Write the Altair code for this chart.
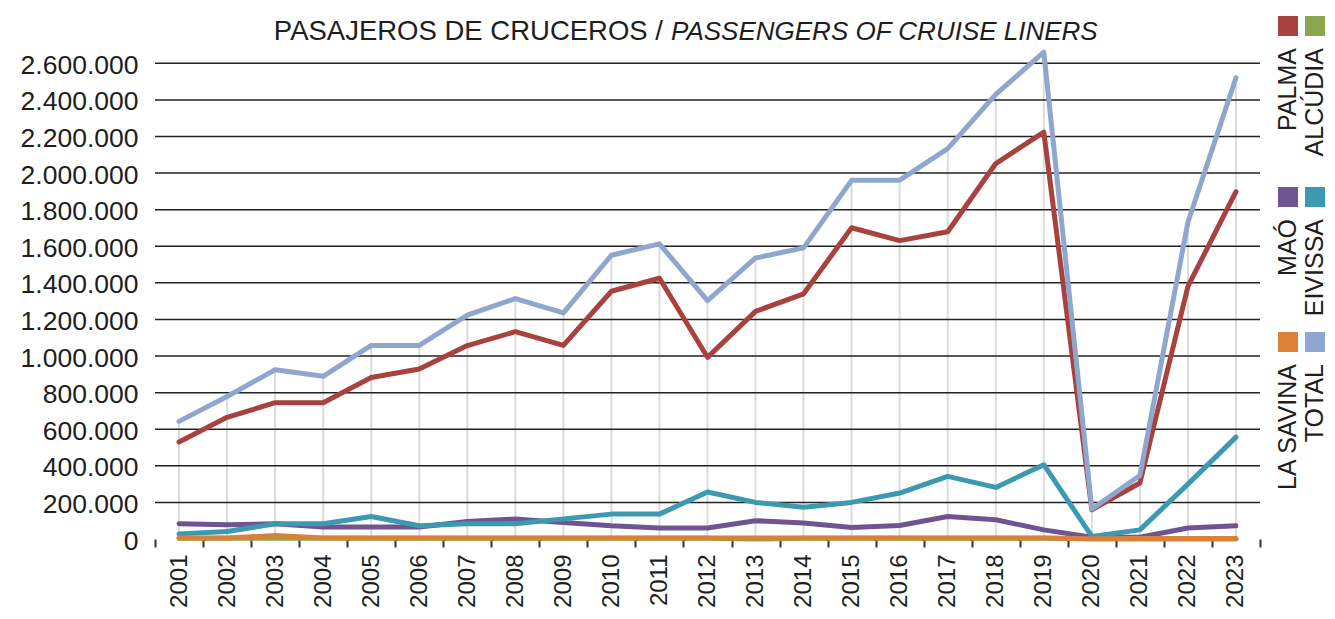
import altair as alt
import pandas as pd

years = ["2001", "2002", "2003", "2004", "2005", "2006", "2007", "2008", "2009", "2010", "2011", "2012",
         "2013", "2014", "2015", "2016", "2017", "2018", "2019", "2020", "2021", "2022", "2023"]

palma = [530000, 665000, 745000, 745000, 883000, 929000, 1057000, 1133000, 1058000, 1354000, 1425000, 993000,
         1244000, 1340000, 1701000, 1631000, 1679000, 2052000, 2224000, 160000, 306000, 1381000, 1898000]
alcudia = [4000, 4000, 4000, 4000, 4000, 4000, 4000, 4000, 4000, 4000, 4000, 4000,
           0, 4000, 4000, 4000, 4000, 4000, 4000, 1000, 0, 0, 0]
mao = [83000, 78000, 83000, 65000, 65000, 66000, 96000, 109000, 90000, 72000, 60000, 60000,
       100000, 87000, 63000, 74000, 123000, 105000, 50000, 10000, 10000, 60000, 72000]
eivissa = [28000, 41000, 83000, 83000, 123000, 72000, 83000, 83000, 110000, 136000, 136000, 257000,
           200000, 174000, 200000, 251000, 342000, 282000, 406000, 14000, 50000, 300000, 557000]
savina = [5000, 5000, 19000, 5000, 5000, 5000, 5000, 5000, 5000, 5000, 5000, 5000,
          5000, 5000, 5000, 5000, 5000, 5000, 5000, 1000, 3000, 3000, 3000]
total = [643000, 779000, 925000, 889000, 1058000, 1058000, 1223000, 1314000, 1236000, 1551000, 1613000, 1303000,
         1536000, 1591000, 1961000, 1961000, 2134000, 2430000, 2661000, 164000, 347000, 1731000, 2521000]

series_names = ["PALMA", "ALCÚDIA", "MAÓ", "EIVISSA", "LA SAVINA", "TOTAL"]
series_colors = ["#A7423E", "#8BA64C", "#6E5592", "#3C99B0", "#DA8039", "#8FA7CF"]
series_values = [palma, alcudia, mao, eivissa, savina, total]

y_ticks = [0, 200000, 400000, 600000, 800000, 1000000, 1200000, 1400000, 1600000,
           1800000, 2000000, 2200000, 2400000, 2600000]

title_es = "PASAJEROS DE CRUCEROS /"
title_en = "PASSENGERS OF CRUISE LINERS"

rows = []
for name, vals in zip(series_names, series_values):
    for yr, v in zip(years, vals):
        rows.append({"year": yr, "series": name, "value": v})
df = pd.DataFrame(rows)
df_total = pd.DataFrame({"year": years, "total": total})
df_grid = pd.DataFrame({"v": y_ticks[1:]})
df_leg = pd.DataFrame({
    "series": series_names,
    "col": [i % 2 for i in range(len(series_names))],
    "row": [i // 2 for i in range(len(series_names))],
})

W, H = 1105, 494
FONT = "Liberation Sans"
TXT = "#1e1e1e"

xscale = alt.Scale(type="band", paddingInner=0, paddingOuter=0, domain=years)
x_axis = alt.Axis(title=None, tickBand="extent", domain=False, grid=False, ticks=True,
                  tickSize=8, tickWidth=2, tickColor="#333333", labelAngle=270,
                  labelFont=FONT, labelFontSize=24, labelColor=TXT, labelPadding=7)
yscale = alt.Scale(domain=[0, 2700000], nice=False, zero=True)
y_axis = alt.Axis(title=None, values=y_ticks, grid=False, domain=False, ticks=False, tickSize=0,
                  labelFont=FONT, labelFontSize=26.5, labelColor=TXT, labelPadding=17, labelOffset=2,
                  labelExpr="replace(replace(format(datum.value, ','), ',', '.'), ',', '.')")


def xe():
    return alt.X("year:O", scale=xscale, bandPosition=0.5, axis=x_axis)


drop = alt.Chart(df_total).mark_rule(color="#dcdcdc", strokeWidth=2).encode(
    x=xe(),
    y=alt.Y("total:Q", scale=yscale, axis=y_axis),
    y2=alt.datum(0),
)

grid = alt.Chart(df_grid).mark_rule(color="#222222", strokeWidth=1.5).encode(
    y=alt.Y("v:Q", scale=yscale, axis=y_axis),
)

lines = []
for name, col in zip(series_names, series_colors):
    lines.append(
        alt.Chart(df).transform_filter(alt.datum.series == name).mark_line(
            color=col, strokeWidth=5, strokeCap="round", strokeJoin="round"
        ).encode(
            x=xe(),
            y=alt.Y("value:Q", scale=yscale, axis=y_axis),
        )
    )

t1 = alt.Chart(pd.DataFrame({"t": [title_es]})).mark_text(
    align="right", baseline="alphabetic", font=FONT, fontSize=27.5, color=TXT
).encode(text="t:N", x=alt.value(508), y=alt.value(-5))
t2 = alt.Chart(pd.DataFrame({"t": [title_en]})).mark_text(
    align="left", baseline="alphabetic", font=FONT, fontSize=26, fontStyle="italic", color=TXT
).encode(text="t:N", x=alt.value(516), y=alt.value(-5))

main = alt.layer(drop, grid, *lines, t1, t2)

lx = alt.X("col:Q", scale=alt.Scale(domain=[0, 1], range=[1133, 1160], zero=False, nice=False), axis=None)
ly = alt.Y("row:Q", scale=alt.Scale(domain=[0, 1, 2], range=[-19, 152, 297], zero=False, nice=False), axis=None)
lc = alt.Color("series:N", scale=alt.Scale(domain=series_names, range=series_colors), legend=None)

leg_sq = alt.Chart(df_leg).mark_square(size=400, opacity=1).encode(x=lx, y=ly, color=lc)
leg_tx = alt.Chart(df_leg).mark_text(
    angle=270, align="right", baseline="middle", dx=-22, font=FONT, fontSize=25, color=TXT
).encode(x=lx, y=ly, text="series:N")
legend = alt.layer(leg_sq, leg_tx)

chart = alt.layer(main, legend).resolve_scale(
    x="independent", y="independent", color="independent"
).properties(
    width=W, height=H,
    autosize=alt.AutoSizeParams(type="none"),
    padding={"left": 147, "top": 37, "right": 67, "bottom": 70},
).configure_view(stroke=None)

chart.save("out.html", embed_options={"renderer": "svg", "actions": False})
